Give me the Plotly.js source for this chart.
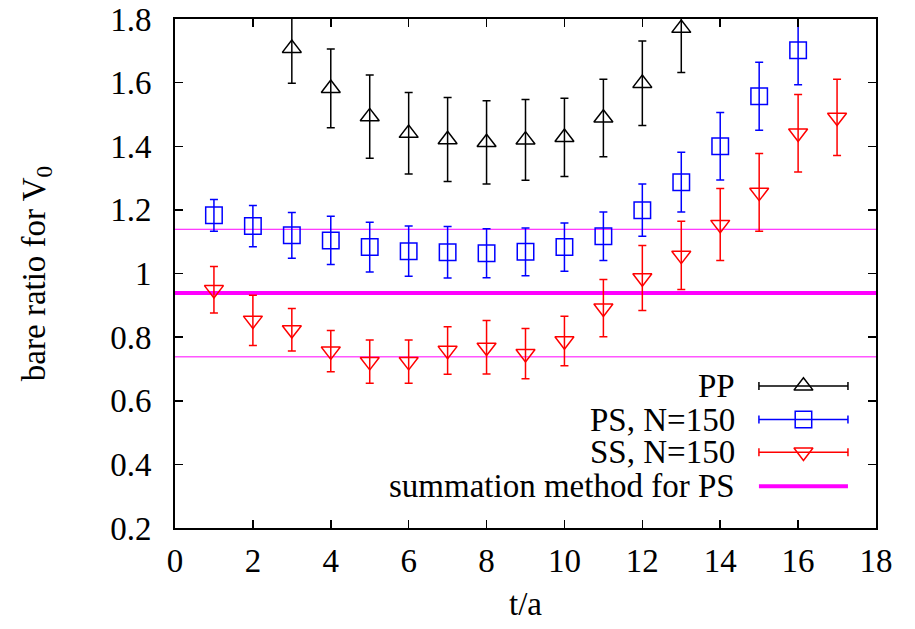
<!DOCTYPE html>
<html>
<head>
<meta charset="utf-8">
<script src="https://cdn.plot.ly/plotly-3.0.1.min.js"></script>
<style>html,body{margin:0;padding:0;background:#fff;}#chart{width:915px;height:629px;}</style>
</head>
<body>
<div id="chart"></div>
<script>
// ---- data ----
const tPP = [3, 4, 5, 6, 7, 8, 9, 10, 11, 12, 13];
const ratioPP = [1.708, 1.582, 1.493, 1.441, 1.421, 1.412, 1.420, 1.428, 1.489, 1.598, 1.771];
const errPP = [0.110, 0.124, 0.131, 0.128, 0.132, 0.131, 0.127, 0.123, 0.122, 0.133, 0.139];

const tPS = [1, 2, 3, 4, 5, 6, 7, 8, 9, 10, 11, 12, 13, 14, 15, 16];
const ratioPS = [1.183, 1.149, 1.120, 1.104, 1.083, 1.070, 1.067, 1.064, 1.068, 1.083, 1.117, 1.199, 1.287, 1.400, 1.557, 1.702];
const errPS = [0.050, 0.065, 0.072, 0.076, 0.078, 0.079, 0.081, 0.077, 0.075, 0.076, 0.076, 0.082, 0.094, 0.106, 0.107, 0.109];

const tSS = [1, 2, 3, 4, 5, 6, 7, 8, 9, 10, 11, 12, 13, 14, 15, 16, 17];
const ratioSS = [0.949, 0.853, 0.823, 0.756, 0.723, 0.723, 0.758, 0.768, 0.748, 0.788, 0.891, 0.986, 1.057, 1.154, 1.255, 1.441, 1.491];
const errSS = [0.073, 0.079, 0.067, 0.065, 0.068, 0.068, 0.075, 0.084, 0.079, 0.078, 0.090, 0.102, 0.107, 0.113, 0.122, 0.122, 0.120];

const summationValue = 0.939;
const summationBand = [1.139, 0.738];
const xSpan = [0, 18];

const seriesNames = ["PP", "PS, N=150", "SS, N=150", "summation method for PS"];
const xTickVals = [0, 2, 4, 6, 8, 10, 12, 14, 16, 18];
const yTickVals = [0.2, 0.4, 0.6, 0.8, 1.0, 1.2, 1.4, 1.6, 1.8];
const yTickText = ["0.2", "0.4", "0.6", "0.8", "1", "1.2", "1.4", "1.6", "1.8"];

// ---- style ----
const FONT = "Liberation Serif";
const FS = 33;
const colPP = "#000000", colPS = "#0000ff", colSS = "#ff0000", colSum = "#ff00ff";

function dataTrace(x, y, e, col, sym, size) {
  return {
    x: x, y: y, type: "scatter", mode: "markers", showlegend: false,
    marker: {symbol: sym, size: size, color: col, line: {color: col, width: 1.5}},
    error_y: {type: "data", array: e, visible: true, color: col, thickness: 1.5, width: 4}
  };
}

const traces = [];
summationBand.forEach(v => traces.push({
  x: xSpan, y: [v, v], type: "scatter", mode: "lines", showlegend: false,
  line: {color: colSum, width: 1}, hoverinfo: "skip"
}));
traces.push({
  x: xSpan, y: [summationValue, summationValue], type: "scatter", mode: "lines", showlegend: false,
  line: {color: colSum, width: 4}
});
traces.push(dataTrace(tPP, ratioPP, errPP, colPP, "triangle-up-open", 16.5));
traces.push(dataTrace(tPS, ratioPS, errPS, colPS, "square-open", 16.5));
traces.push(dataTrace(tSS, ratioSS, errSS, colSS, "triangle-down-open", 16.5));

// ---- manual legend (text left of sample, like gnuplot) ----
const legRowsY = [0.279, 0.213, 0.149, 0.082];
const legTextX = 0.802;
const legSampleX = [0.833, 0.960];
const legCols = [colPP, colPS, colSS];
const legSyms = ["triangle-up-open", "square-open", "triangle-down-open"];
const legMid = (legSampleX[0] + legSampleX[1]) / 2;
const legHalf = (legSampleX[1] - legSampleX[0]) / 2;
for (let i = 0; i < 3; i++) {
  traces.push({
    x: [legMid], y: [legRowsY[i]], xaxis: "x2", yaxis: "y2", type: "scatter", mode: "markers",
    showlegend: false, hoverinfo: "skip",
    marker: {symbol: legSyms[i], size: 16.5, color: legCols[i], line: {color: legCols[i], width: 1.5}},
    error_x: {type: "data", array: [legHalf], visible: true, color: legCols[i], thickness: 1.5, width: 4}
  });
}
traces.push({
  x: legSampleX, y: [legRowsY[3], legRowsY[3]], xaxis: "x2", yaxis: "y2", type: "scatter",
  mode: "lines", showlegend: false, hoverinfo: "skip", line: {color: colSum, width: 4}
});

const annotations = seriesNames.map((n, i) => ({
  text: n, xref: "paper", yref: "paper", x: legTextX, y: legRowsY[i],
  xanchor: "right", yanchor: "middle", showarrow: false,
  font: {family: FONT, size: FS, color: "#000"}
}));

const layout = {
  width: 915, height: 629,
  margin: {l: 175, r: 39, t: 19, b: 101, pad: 0},
  paper_bgcolor: "#fff", plot_bgcolor: "#fff",
  font: {family: FONT, size: FS, color: "#000"},
  showlegend: false,
  xaxis: {
    range: [0, 18], tickvals: xTickVals, ticktext: xTickVals.map(String),
    ticks: "inside", ticklen: 8, tickwidth: 1.5, tickcolor: "#000",
    showline: true, linewidth: 2, linecolor: "#000", mirror: "ticks",
    showgrid: false, zeroline: false, ticklabelstandoff: 2,
    tickfont: {family: FONT, size: FS},
    title: {text: "t/a", font: {family: FONT, size: FS}, standoff: 14},
    automargin: false
  },
  yaxis: {
    range: [0.2, 1.8], tickvals: yTickVals, ticktext: yTickText,
    ticks: "inside", ticklen: 8, tickwidth: 1.5, tickcolor: "#000",
    showline: true, linewidth: 2, linecolor: "#000", mirror: "ticks",
    showgrid: false, zeroline: false, ticklabelstandoff: 15,
    tickfont: {family: FONT, size: FS},
    title: {text: "bare ratio for V<sub>0</sub>", font: {family: FONT, size: FS}, standoff: 55},
    automargin: false
  },
  xaxis2: {domain: [0, 1], range: [0, 1], overlaying: "x", visible: false, fixedrange: true},
  yaxis2: {domain: [0, 1], range: [0, 1], overlaying: "y", anchor: "x2", visible: false, fixedrange: true},
  annotations: annotations
};

Plotly.newPlot("chart", traces, layout, {displayModeBar: false, staticPlot: true});
</script>
</body>
</html>
